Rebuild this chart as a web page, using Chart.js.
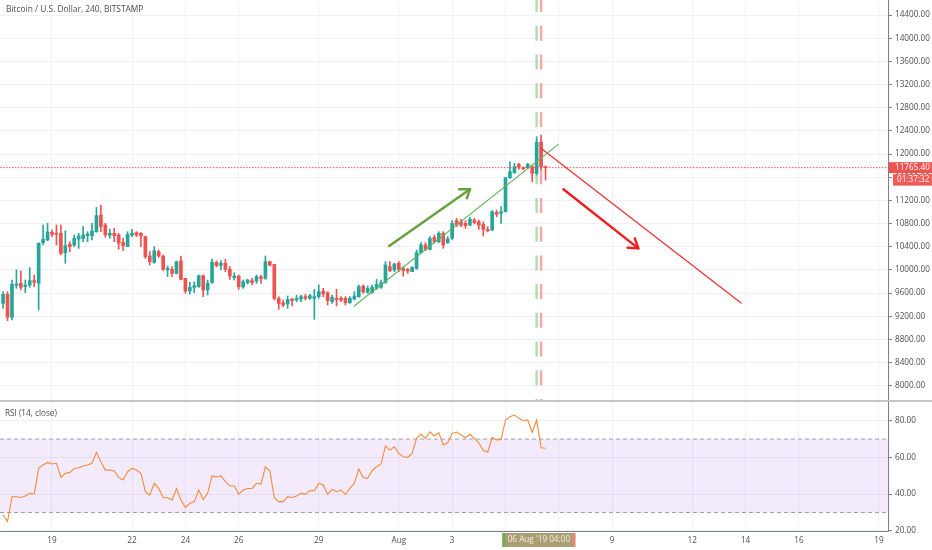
<!DOCTYPE html>
<html>
<head>
<meta charset="utf-8">
<script src="https://cdn.jsdelivr.net/npm/chart.js@4.4.0/dist/chart.umd.min.js"></script>
<style>
  html, body { margin: 0; padding: 0; background: #fff; width: 932px; height: 550px; overflow: hidden; font-family: "Open Sans", sans-serif; }
  #priceChart { position: absolute; left: 0; top: 0; }
  #rsiChart { position: absolute; left: 0; top: 402px; }
  #sep { position: absolute; left: 0; top: 400px; width: 932px; height: 2px; background: #c3c5cb; }
  #title { position: absolute; left: 6px; top: 3px; font-size: 8.4px; color: #4e4e4e; white-space: nowrap; }
  #rsiLabel { position: absolute; left: 5px; top: 407px; font-size: 8.2px; color: #4e4e4e; white-space: nowrap; }
</style>
</head>
<body>
<canvas id="priceChart" width="932" height="401"></canvas>
<div id="sep"></div>
<canvas id="rsiChart" width="932" height="148"></canvas>
<div id="title">Bitcoin / U.S. Dollar, 240, BITSTAMP</div>
<div id="rsiLabel">RSI (14, close)</div>
<script>
// 4h candles (first one = 17 Jul 04:00)
const candleOpen = [
  9424, 9580, 9183, 9735, 9769, 9712, 9740, 9815, 9769, 10471,
  10517, 10649, 10632, 10632, 10298, 10442, 10430, 10534, 10540, 10591,
  10591, 10660, 10948, 10776, 10597, 10632, 10603, 10476, 10402, 10603,
  10643, 10632, 10574, 10240, 10131, 10315, 10240, 9999, 10010, 9941,
  10154, 9855, 9636, 9699, 9711, 9901, 9653, 9786, 10131, 10079,
  10114, 10010, 9866, 9895, 9711, 9780, 9815, 9809, 9884, 9855,
  10142, 10096, 9510, 9435, 9412, 9498, 9481, 9498, 9539, 9510,
  9510, 9539, 9636, 9608, 9452, 9510, 9510, 9510, 9435, 9498,
  9539, 9723, 9614, 9608, 9682, 9700, 9780, 10056, 9999, 10114,
  10027, 10010, 9970, 10027, 10298, 10430, 10355, 10563, 10488, 10632,
  10470, 10545, 10850, 10833, 10804, 10775, 10862, 10833, 10787, 10700,
  10689, 10994, 10977, 11005, 11592, 11679, 11822, 11765, 11765, 11782,
  11667, 12202, 11782
];
const candleHigh = [
  9626, 9626, 9827, 9999, 9982, 9827, 10039, 9913, 10471, 10776,
  10804, 10689, 10776, 10776, 10678, 10488, 10603, 10632, 10747, 10660,
  10804, 11080, 11121, 10804, 10701, 10718, 10632, 10545, 10660, 10701,
  10660, 10643, 10586, 10315, 10401, 10344, 10258, 10068, 10056, 10154,
  10240, 9855, 9786, 9797, 9912, 9912, 9826, 10188, 10154, 10160,
  10183, 10056, 9953, 9912, 9826, 9838, 9855, 9912, 9912, 10240,
  10154, 10096, 9538, 9481, 9550, 9510, 9567, 9567, 9579, 9579,
  9665, 9740, 9682, 9625, 9567, 9665, 9539, 9539, 9539, 9625,
  9740, 9740, 9723, 9740, 9838, 9826, 10143, 10143, 10114, 10143,
  10056, 10027, 10056, 10344, 10471, 10471, 10574, 10603, 10660, 10660,
  10574, 10850, 10890, 10873, 10850, 10908, 10890, 10862, 10833, 10747,
  11023, 11034, 11092, 11600, 11868, 11840, 11840, 11782, 11840, 11811,
  12300, 12329, 11794
];
const candleLow = [
  9338, 9125, 9137, 9683, 9654, 9608, 9700, 9712, 9309, 10430,
  10505, 10574, 10430, 10258, 10114, 10315, 10402, 10373, 10488, 10488,
  10517, 10649, 10660, 10563, 10545, 10488, 10356, 10333, 10402, 10574,
  10574, 10402, 10200, 10085, 10114, 10217, 9987, 9884, 9884, 9930,
  9826, 9596, 9584, 9607, 9699, 9538, 9567, 9769, 10056, 9999,
  9970, 9838, 9826, 9665, 9682, 9757, 9740, 9769, 9769, 9838,
  10068, 9481, 9320, 9366, 9337, 9378, 9452, 9452, 9481, 9493,
  9147, 9510, 9539, 9395, 9424, 9378, 9452, 9395, 9424, 9481,
  9527, 9596, 9596, 9596, 9665, 9682, 9769, 9970, 9970, 9970,
  9895, 9941, 9970, 10010, 10287, 10333, 10344, 10459, 10470, 10373,
  10459, 10528, 10747, 10747, 10718, 10758, 10793, 10700, 10585, 10660,
  10678, 10919, 10804, 11000, 11581, 11667, 11736, 11725, 11753, 11523,
  11638, 11725, 11552
];
const candleClose = [
  9580, 9183, 9752, 9758, 9700, 9740, 9815, 9786, 10459, 10528,
  10655, 10614, 10614, 10287, 10419, 10402, 10545, 10586, 10603, 10620,
  10672, 10937, 10747, 10603, 10632, 10591, 10459, 10419, 10614, 10632,
  10603, 10586, 10229, 10142, 10332, 10240, 10010, 10027, 9941, 10142,
  9838, 9636, 9699, 9728, 9901, 9653, 9769, 10131, 10073, 10114,
  10010, 9895, 9895, 9711, 9797, 9826, 9780, 9884, 9849, 10142,
  10085, 9510, 9423, 9395, 9492, 9470, 9510, 9539, 9510, 9556,
  9539, 9625, 9585, 9470, 9527, 9481, 9481, 9435, 9510, 9550,
  9711, 9619, 9682, 9700, 9752, 9780, 10085, 9987, 10102, 10010,
  9987, 9982, 10045, 10298, 10430, 10356, 10545, 10488, 10632, 10430,
  10534, 10804, 10775, 10775, 10764, 10873, 10816, 10775, 10700, 10678,
  11005, 10959, 11005, 11592, 11696, 11782, 11782, 11748, 11822, 11667,
  12202, 11782, 11765.4
];
const rsiValues = [
  28.6, 25.0, 38.6, 38.6, 38.2, 39.0, 40.4, 40.1, 54.0, 55.9,
  57.3, 56.4, 56.8, 49.1, 51.3, 51.7, 54.0, 54.4, 55.3, 55.9,
  56.8, 62.8, 57.7, 53.1, 53.1, 52.6, 49.1, 47.7, 52.2, 54.0,
  53.1, 51.3, 41.3, 39.5, 45.9, 43.1, 38.2, 38.0, 36.8, 43.1,
  36.8, 32.8, 35.0, 35.9, 42.2, 37.1, 40.4, 49.9, 49.5, 49.9,
  46.8, 44.4, 44.4, 40.0, 42.2, 43.1, 43.1, 45.9, 45.5, 54.9,
  52.6, 38.0, 35.9, 35.9, 38.6, 38.2, 39.0, 40.4, 40.0, 41.9,
  41.9, 45.9, 45.0, 39.9, 42.6, 41.3, 42.2, 39.9, 43.1, 45.9,
  53.7, 49.1, 48.6, 52.8, 54.9, 56.4, 66.2, 64.0, 65.8, 62.2,
  60.4, 60.0, 62.2, 70.4, 72.6, 70.4, 74.0, 71.7, 73.5, 66.8,
  68.0, 73.1, 73.8, 72.2, 70.7, 72.6, 70.4, 68.0, 63.7, 62.8,
  70.9, 69.5, 69.8, 80.4, 82.2, 83.1, 81.3, 80.0, 80.4, 73.7,
  80.4, 65.3, 65.0
];

// time is counted in days from 1 Jul
const firstCandleDay = 16 + 4 / 24;
const candleStep = 4 / 24;
const dayMin = 16.051, dayMax = 49.338;
const tickDays = [18, 21, 23, 25, 28, 31, 33, 35, 37, 39, 42, 44, 46, 49];
const tickLabels = ["19", "22", "24", "26", "29", "Aug", "3", "", "", "9", "12", "14", "16", "19"];
const priceMin = 7738, priceMax = 14659;
const priceTicks = [8000, 8400, 8800, 9200, 9600, 10000, 10400, 10800, 11200, 11600, 12000, 12400, 12800, 13200, 13600, 14000, 14400];
const rsiMin = 19.9, rsiMax = 90.2;
const rsiTicks = [20, 40, 60, 80];
const rsiBand = [30, 70];
const lastPrice = 11765.40;
const countdown = "01:37:32";
const cursorLabel = "06 Aug '19 04:00";
const rangeDays = [36 + 4 / 24, 36 + 8 / 24];

// hand drawn lines, [day, price]
const greenTrend = [[29.33, 9377], [36.98, 12168]];
const greenArrow = [[30.64, 10413], [33.67, 11392]];
const greenHead = [[33.26, 11392], [33.67, 11392], [33.55, 11236]];
const redTrend = [[36.33, 12099], [43.83, 9429]];
const redArrow = [[37.17, 11392], [39.98, 10373]];
const redHead = [[39.85, 10546], [39.98, 10373], [39.58, 10384]];

const UP = "#26a69a", DOWN = "#ef5350";
const GRID = "#eef1f6", AXIS = "#7d7f86", TEXT = "#4e4e4e";
const TICK_FONT = 8.2;
Chart.defaults.font.family = '"Open Sans", sans-serif';

const candleDays = candleOpen.map((_, i) => firstCandleDay + i * candleStep);
const candleColors = candleOpen.map((o, i) => candleClose[i] >= o ? UP : DOWN);
const toPoints = arr => arr.map(p => ({ x: p[0], y: p[1] }));

function drawing(points, color, width, extra) {
  return Object.assign({
    type: "line", data: toPoints(points), borderColor: color, borderWidth: width,
    pointRadius: 0, fill: false, tension: 0, order: 0,
    borderCapStyle: "round", borderJoinStyle: "round"
  }, extra || {});
}

function xScale(showLabels) {
  return {
    type: "linear", min: dayMin, max: dayMax, offset: false,
    afterBuildTicks: s => { s.ticks = tickDays.map(v => ({ value: v })); },
    grid: { color: GRID, drawTicks: false, offset: false },
    border: { display: showLabels, color: AXIS },
    ticks: {
      display: showLabels, autoSkip: false, maxRotation: 0, padding: 5,
      color: TEXT, font: { size: TICK_FONT },
      callback: v => tickLabels[tickDays.indexOf(v)]
    },
    afterFit: s => {
      s.height = showLabels ? 19 : 0;
      s.paddingLeft = 0; s.paddingRight = 0;
    }
  };
}

function yScale(min, max, ticks) {
  return {
    position: "right", min, max,
    afterBuildTicks: s => { s.ticks = ticks.map(v => ({ value: v })); },
    grid: { color: GRID, tickColor: AXIS, tickLength: 4 },
    border: { color: AXIS },
    ticks: { color: TEXT, font: { size: TICK_FONT }, padding: 3, callback: v => v.toFixed(2) },
    afterFit: s => {
      s.width = 44;
      s.paddingTop = 0; s.paddingBottom = 0;
    }
  };
}

const priceTags = {
  id: "priceTags",
  afterDraw(chart) {
    const ctx = chart.ctx;
    const py = chart.scales.y.getPixelForValue(lastPrice);
    ctx.save();
    ctx.fillStyle = "#ef5350";
    ctx.fillRect(889, py - 5.5, 43, 11);
    ctx.fillStyle = "#f05a57";
    ctx.fillRect(893, py + 6.5, 39, 11.5);
    ctx.fillStyle = "#fff";
    ctx.font = TICK_FONT + 'px "Open Sans", sans-serif';
    ctx.textBaseline = "middle";
    ctx.fillText(lastPrice.toFixed(2), 895, py);
    ctx.fillText(countdown, 897, py + 12.3);
    ctx.restore();
  }
};

const cursorTag = {
  id: "cursorTag",
  afterDraw(chart) {
    const ctx = chart.ctx;
    const cx = chart.scales.x.getPixelForValue((rangeDays[0] + rangeDays[1]) / 2);
    const top = chart.chartArea.bottom + 2;
    ctx.save();
    ctx.fillStyle = "#a99e74";
    ctx.fillRect(cx - 36.5, top, 73, 14);
    ctx.fillStyle = "#6fae5a";
    ctx.fillRect(cx - 36.5, top, 3, 14);
    ctx.fillStyle = "#e9877f";
    ctx.fillRect(cx + 33.5, top, 3, 14);
    ctx.fillStyle = "#f4efe0";
    ctx.font = '8.2px "Open Sans", sans-serif';
    ctx.textAlign = "center";
    ctx.textBaseline = "middle";
    ctx.fillText(cursorLabel, cx, top + 7);
    ctx.restore();
  }
};

new Chart(document.getElementById("priceChart"), {
  type: "bar",
  data: {
    datasets: [
      drawing([[rangeDays[0], priceMax], [rangeDays[0], priceMin]], "rgba(102,187,106,0.5)", 2.5,
        { order: 10, borderDash: [15, 13.7], borderDashOffset: 2.9, borderCapStyle: "butt" }),
      drawing([[rangeDays[1], priceMax], [rangeDays[1], priceMin]], "rgba(239,83,80,0.5)", 2.5,
        { order: 10, borderDash: [15, 13.7], borderDashOffset: 2.9, borderCapStyle: "butt" }),
      {
        type: "bar", order: 3, grouped: false, barThickness: 1,
        data: candleDays.map((d, i) => ({ x: d, y: [candleLow[i], candleHigh[i]] })),
        backgroundColor: candleColors
      },
      {
        type: "bar", order: 2, grouped: false, barThickness: 3, minBarLength: 1,
        data: candleDays.map((d, i) => ({ x: d, y: [candleOpen[i], candleClose[i]] })),
        backgroundColor: candleColors
      },
      drawing([[dayMin, lastPrice], [dayMax, lastPrice]], "#ef5350", 1,
        { order: 1, borderDash: [1.5, 1.5], borderCapStyle: "butt" }),
      drawing(greenTrend, "#5fb35a", 1.1),
      drawing(greenArrow, "#65a03c", 2.4),
      drawing(greenHead, "#65a03c", 2.4),
      drawing(redTrend, "#f03232", 1.3),
      drawing(redArrow, "#f21c1c", 2.4),
      drawing(redHead, "#f21c1c", 2.4)
    ]
  },
  options: {
    responsive: false, animation: false, devicePixelRatio: 1,
    layout: { padding: 0 },
    plugins: { legend: { display: false }, tooltip: { enabled: false } },
    scales: { x: xScale(false), y: yScale(priceMin, priceMax, priceTicks) }
  },
  plugins: [priceTags]
});

new Chart(document.getElementById("rsiChart"), {
  type: "line",
  data: {
    datasets: [
      {
        data: [{ x: dayMin, y: rsiBand[1] }, { x: dayMax, y: rsiBand[1] }],
        borderColor: "#a3a3a3", borderWidth: 1, borderDash: [4, 3], pointRadius: 0,
        fill: { value: rsiBand[0] }, backgroundColor: "rgba(150,60,230,0.11)", order: 2
      },
      {
        data: [{ x: dayMin, y: rsiBand[0] }, { x: dayMax, y: rsiBand[0] }],
        borderColor: "#a3a3a3", borderWidth: 1, borderDash: [4, 3], pointRadius: 0,
        fill: false, order: 2
      },
      {
        data: candleDays.map((d, i) => ({ x: d, y: rsiValues[i] })),
        borderColor: "#f48a3c", borderWidth: 1.1, pointRadius: 0, tension: 0,
        fill: false, order: 1
      }
    ]
  },
  options: {
    responsive: false, animation: false, devicePixelRatio: 1,
    layout: { padding: 0 },
    plugins: { legend: { display: false }, tooltip: { enabled: false } },
    scales: { x: xScale(true), y: yScale(rsiMin, rsiMax, rsiTicks) }
  },
  plugins: [cursorTag]
});
</script>
</body>
</html>
